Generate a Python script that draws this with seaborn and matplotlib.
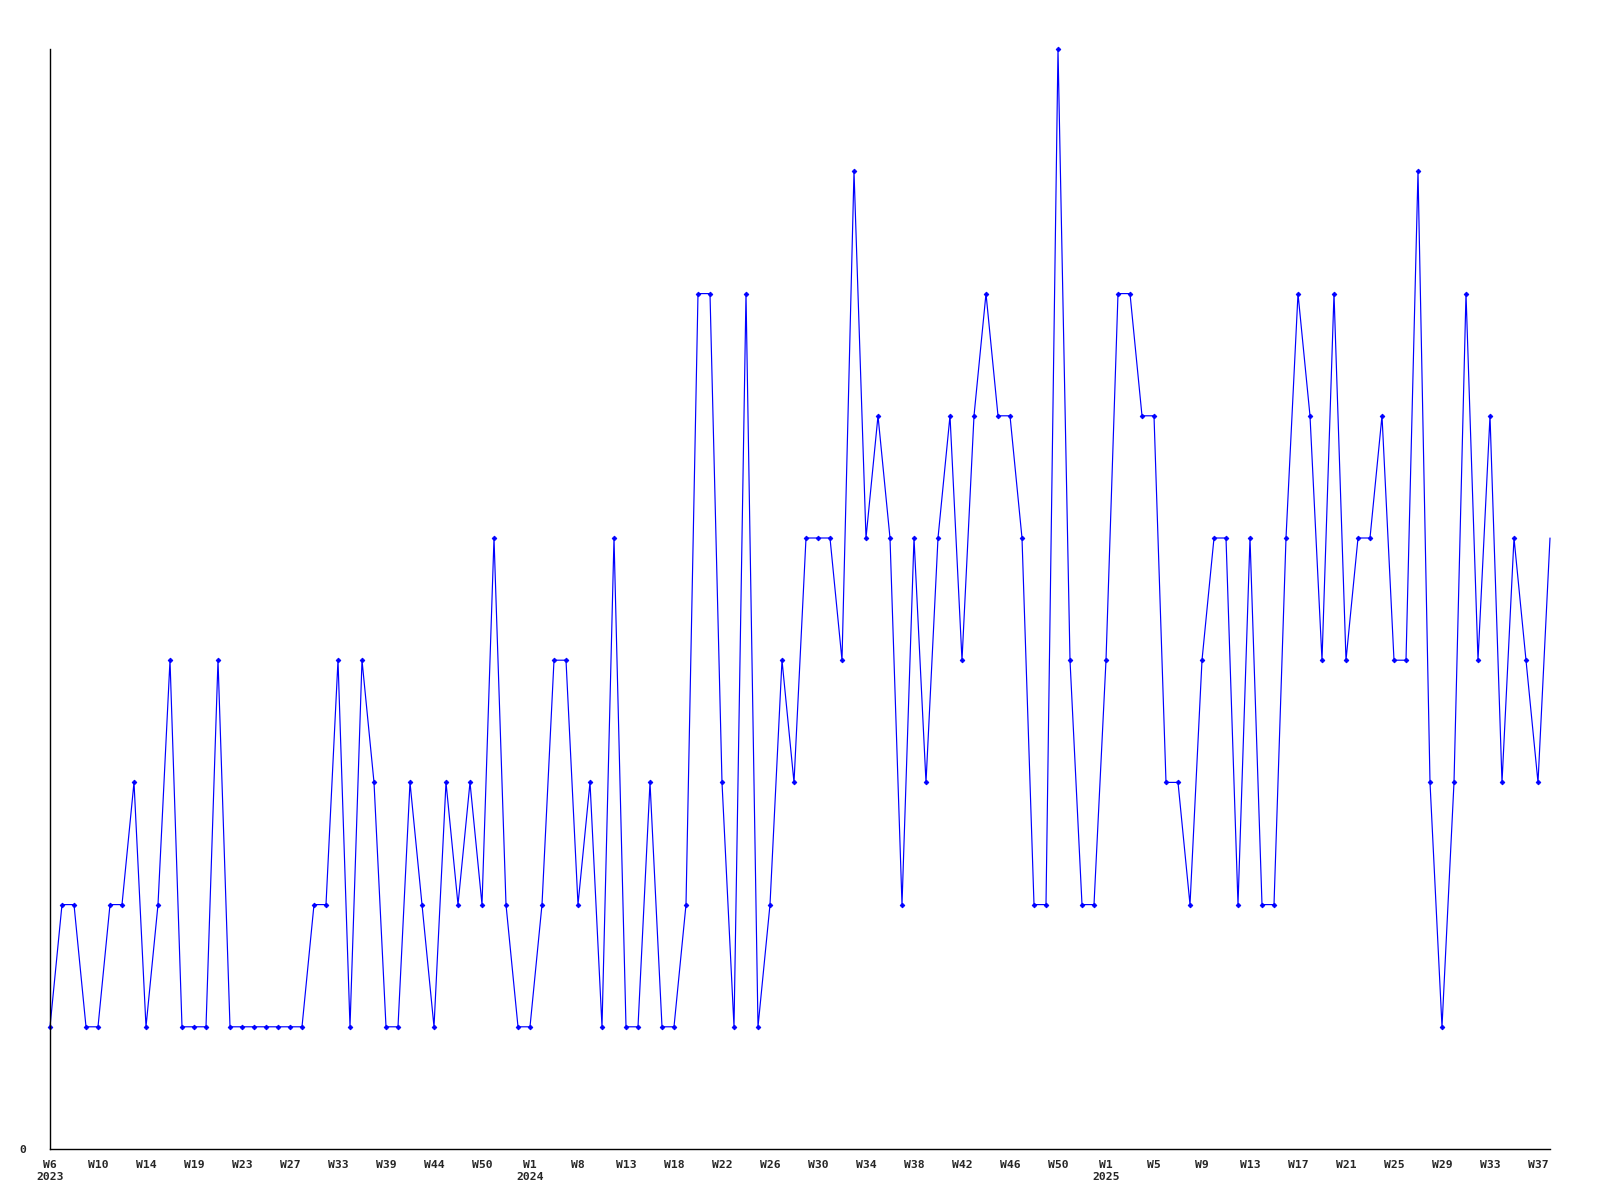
import matplotlib
matplotlib.use('Agg')
import matplotlib.pyplot as plt
import seaborn as sns
import pandas as pd

# weekly counts, W6 2023 .. W37 2025 (weeks with data only)
counts = [1, 2, 2, 1, 1, 2, 2, 3, 1, 2,
          4, 1, 1, 1, 4, 1, 1, 1, 1, 1,
          1, 1, 2, 2, 4, 1, 4, 3, 1, 1,
          3, 2, 1, 3, 2, 3, 2, 5, 2, 1,
          1, 2, 4, 4, 2, 3, 1, 5, 1, 1,
          3, 1, 1, 2, 7, 7, 3, 1, 7, 1,
          2, 4, 3, 5, 5, 5, 4, 8, 5, 6,
          5, 2, 5, 3, 5, 6, 4, 6, 7, 6,
          6, 5, 2, 2, 9, 4, 2, 2, 4, 7,
          7, 6, 6, 3, 3, 2, 4, 5, 5, 2,
          5, 2, 2, 5, 7, 6, 4, 7, 4, 5,
          5, 6, 4, 4, 8, 3, 1, 3, 7, 4,
          6, 3, 5, 4, 3, 5]

tick_labels = ['W6\n2023', 'W10', 'W14', 'W19', 'W23', 'W27', 'W33', 'W39',
               'W44', 'W50', 'W1\n2024', 'W8', 'W13', 'W18', 'W22', 'W26',
               'W30', 'W34', 'W38', 'W42', 'W46', 'W50', 'W1\n2025', 'W5',
               'W9', 'W13', 'W17', 'W21', 'W25', 'W29', 'W33', 'W37']
tick_step = 4

df = pd.DataFrame({'idx': range(len(counts)), 'count': counts})

sns.set_style('white')
plt.rcParams['font.family'] = ['DejaVu Sans Mono']

fig, ax = plt.subplots(figsize=(16, 12), dpi=100)
fig.subplots_adjust(left=0.03125, right=0.96875, top=0.959, bottom=0.0425)

sns.lineplot(data=df, x='idx', y='count', ax=ax, color='#0000ff', linewidth=0.85,
             marker='D', markersize=2.4, markeredgewidth=0.6, markeredgecolor='#0000ff',
             markevery=list(range(len(counts) - 1)), clip_on=False)

ax.set_xlim(0, len(counts) - 1)
ax.set_ylim(0, 9)
ax.set_xticks(range(0, len(counts), tick_step))
ax.set_xticklabels(tick_labels, fontsize=8.2, fontweight='bold', linespacing=1.2)
ax.set_yticks([0])
ax.set_yticklabels(['0'], fontsize=8.2, fontweight='bold')
ax.tick_params(axis='x', length=0, pad=8)
ax.tick_params(axis='y', length=0, pad=17)
ax.set_xlabel('')
ax.set_ylabel('')

for side in ['top', 'right']:
    ax.spines[side].set_visible(False)
for side in ['left', 'bottom']:
    ax.spines[side].set_color('black')
    ax.spines[side].set_linewidth(1.0)

plt.savefig('out.png', dpi=100)
